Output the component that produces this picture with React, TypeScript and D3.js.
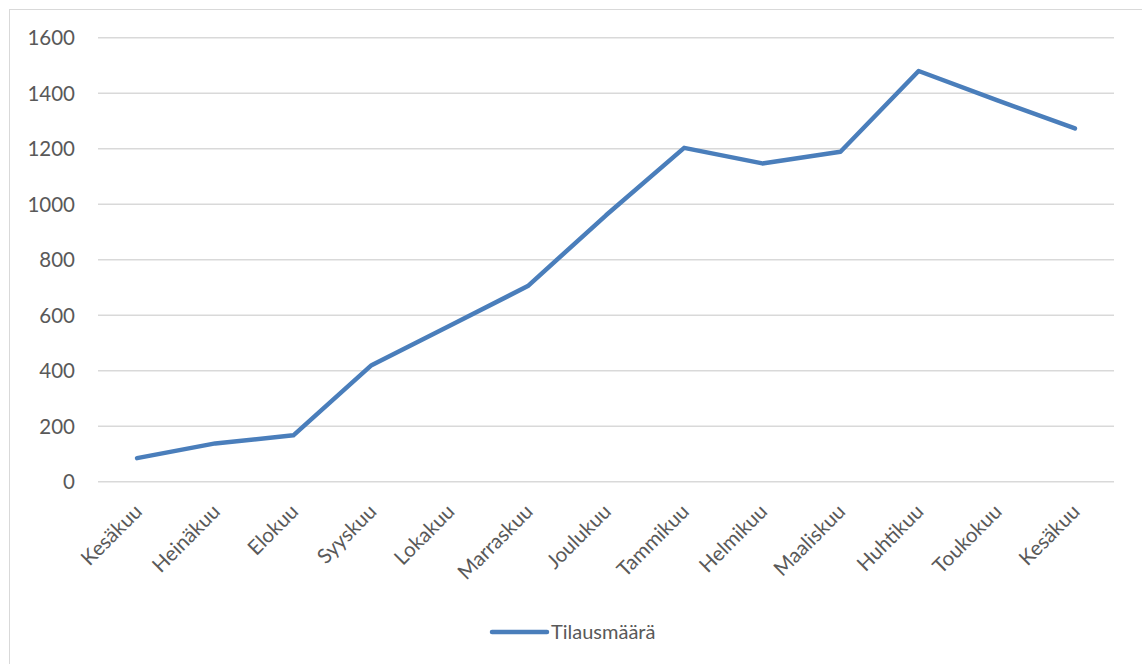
import React from "react";
import * as d3 from "d3";

const categories = [
  "Kesäkuu", "Heinäkuu", "Elokuu", "Syyskuu", "Lokakuu", "Marraskuu", "Joulukuu",
  "Tammikuu", "Helmikuu", "Maaliskuu", "Huhtikuu", "Toukokuu", "Kesäkuu",
];
const values = [85, 138, 167, 420, 562, 705, 960, 1203, 1147, 1189, 1480, 1375, 1273];
const yTicks = [0, 200, 400, 600, 800, 1000, 1200, 1400, 1600];
const seriesName = "Tilausmäärä";

const W = 1142;
const H = 664;
const plotLeft = 98;
const plotRight = 1114;
const plotTop = 37.7;
const plotBottom = 481.7;
const FONT = "Lato, 'Open Sans', sans-serif";
const TEXT = "#595959";
const GRID = "#d9d9d9";
const LINE = "#4a7ebb";

export default function App() {
  const idx = categories.map((_, i) => String(i));
  const x = d3.scaleBand<string>().domain(idx).range([plotLeft, plotRight]);
  const y = d3.scaleLinear().domain([0, 1600]).range([plotBottom, plotTop]);
  const cx = (i: number) => (x(String(i)) as number) + x.bandwidth() / 2;
  const line = d3
    .line<number>()
    .x((_, i) => cx(i))
    .y((d) => y(d));

  return (
    <svg
      width={W}
      height={H}
      style={{ position: "absolute", left: 0, top: 0, background: "#fff" }}
    >
      <rect x={9.5} y={9.5} width={W + 20} height={H + 20} fill="#fff" stroke={GRID} strokeWidth={1} />
      {yTicks.map((t) => (
        <g key={t}>
          <line x1={plotLeft} x2={plotRight} y1={y(t)} y2={y(t)} stroke={GRID} strokeWidth={1.5} />
          <text
            x={75}
            y={y(t)}
            dy="0.36em"
            textAnchor="end"
            fontFamily={FONT}
            fontSize={20.5}
            fill={TEXT}
          >
            {t}
          </text>
        </g>
      ))}
      {categories.map((c, i) => (
        <text
          key={i}
          transform={`translate(${cx(i) + 1},${plotBottom + 26}) rotate(-45)`}
          textAnchor="end"
          dy="0.36em"
          fontFamily={FONT}
          fontSize={20.5}
          fill={TEXT}
        >
          {c}
        </text>
      ))}
      <path
        d={line(values) || ""}
        fill="none"
        stroke={LINE}
        strokeWidth={4.5}
        strokeLinejoin="round"
        strokeLinecap="round"
      />
      <line x1={492} x2={547} y1={632} y2={632} stroke={LINE} strokeWidth={4.5} strokeLinecap="round" />
      <text x={551} y={632} dy="0.36em" fontFamily={FONT} fontSize={20} fill={TEXT}>
        {seriesName}
      </text>
    </svg>
  );
}
